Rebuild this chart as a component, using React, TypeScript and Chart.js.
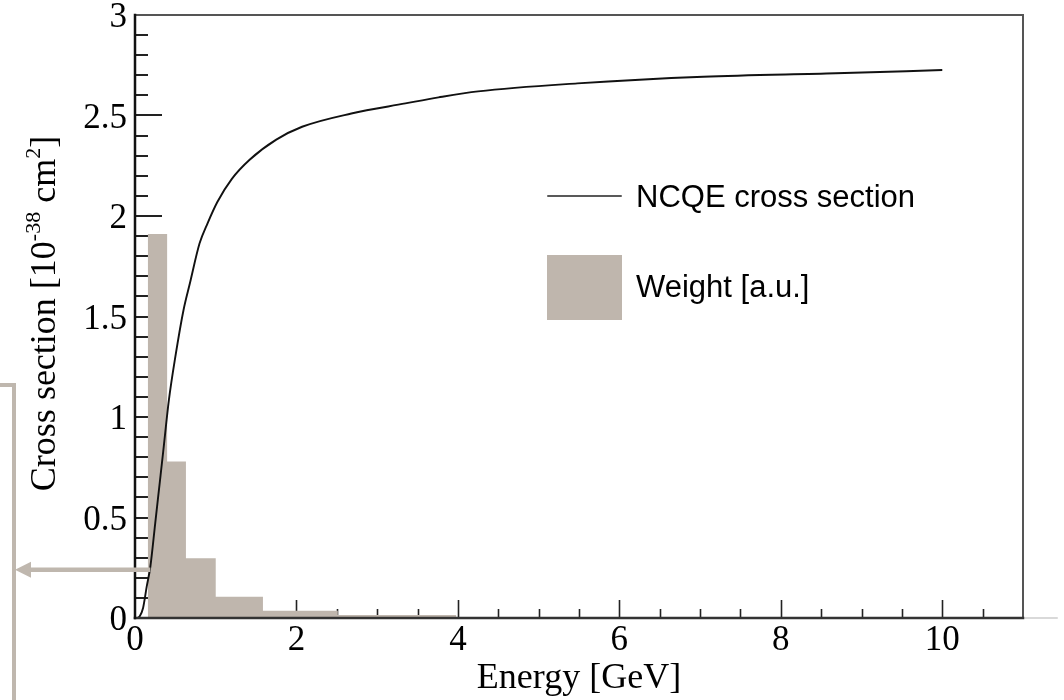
import React, { useEffect, useRef } from "react";
import { Chart, registerables } from "chart.js";

Chart.register(...registerables);

// NCQE cross section curve (energy in GeV, cross section in 1e-38 cm^2)
const energies = [0.03, 0.06, 0.1, 0.145, 0.19, 0.25, 0.3, 0.35, 0.42, 0.5, 0.6, 0.68, 0.8, 0.9, 1.02, 1.2, 1.42, 1.75, 2.07, 2.68, 3.35, 3.76, 4.25, 5.48, 7.04, 8.68, 10.0];
const crossSection = [0, 0.01, 0.05, 0.156, 0.255, 0.47, 0.65, 0.83, 1.085, 1.3, 1.53, 1.665, 1.864, 1.965, 2.07, 2.185, 2.28, 2.38, 2.444, 2.51, 2.56, 2.59, 2.62, 2.66, 2.693, 2.71, 2.726];

// Weight histogram (log-spaced bin edges)
const binEdges = [0.158, 0.398, 0.631, 1.0, 1.585, 2.512, 3.981];
const weights = [1.91, 0.778, 0.297, 0.106, 0.036, 0.015];

const xTickStep = 2;
const yTickStep = 0.5;

const legendLabels = ["NCQE cross section", "Weight [a.u.]"];
const xTitle = "Energy [GeV]";
const yTitleParts = [
  { text: "Cross section [10", sup: false },
  { text: "-38", sup: true },
  { text: " cm", sup: false },
  { text: "2", sup: true },
  { text: "]", sup: false },
];

// annotation arrow target (energy, value)
const arrowTarget = { E: 0.19, v: 0.24 };

const HIST_COLOR = "#bfb6ad";
const SERIF = "'Liberation Serif', 'Times New Roman', serif";
const SANS = "'Liberation Sans', Arial, Helvetica, sans-serif";

const decorPlugin = {
  id: "decor",
  beforeDatasetsDraw(chart: any) {
    const { ctx, chartArea: a, scales } = chart;
    const xs = scales.x;
    const ys = scales.y;
    ctx.save();
    ctx.strokeStyle = "#222";
    ctx.lineWidth = 2;
    for (let i = 1; i <= 30; i++) {
      const py = Math.round(ys.getPixelForValue(i / 10));
      const len = i % 5 === 0 ? 27 : 13;
      ctx.beginPath();
      ctx.moveTo(a.left, py);
      ctx.lineTo(a.left + len, py);
      ctx.stroke();
    }
    ctx.lineWidth = 1.6;
    for (let i = 1; i <= 21; i++) {
      const px = Math.round(xs.getPixelForValue(i * 0.5)) + 0.5;
      const len = i % 4 === 0 ? 18 : 9;
      ctx.beginPath();
      ctx.moveTo(px, a.bottom);
      ctx.lineTo(px, a.bottom - len);
      ctx.stroke();
    }
    ctx.restore();
  },
  afterDraw(chart: any) {
    const { ctx, chartArea: a, scales } = chart;
    const xs = scales.x;
    const ys = scales.y;
    ctx.save();
    // frame
    ctx.lineCap = "square";
    ctx.strokeStyle = "#555";
    ctx.lineWidth = 2;
    ctx.beginPath();
    ctx.moveTo(a.left, a.top);
    ctx.lineTo(a.right, a.top);
    ctx.lineTo(a.right, a.bottom);
    ctx.stroke();
    ctx.strokeStyle = "#ccc";
    ctx.lineWidth = 1.5;
    ctx.beginPath();
    ctx.moveTo(a.right + 2, a.bottom);
    ctx.lineTo(a.right + 34, a.bottom);
    ctx.stroke();
    ctx.strokeStyle = "#333";
    ctx.lineWidth = 2.5;
    ctx.beginPath();
    ctx.moveTo(a.right, a.bottom);
    ctx.lineTo(a.left, a.bottom);
    ctx.stroke();
    ctx.strokeStyle = "#111";
    ctx.beginPath();
    ctx.moveTo(a.left, a.bottom);
    ctx.lineTo(a.left, a.top);
    ctx.stroke();

    // x title
    ctx.fillStyle = "#000";
    ctx.font = `36px ${SERIF}`;
    ctx.textAlign = "center";
    ctx.textBaseline = "alphabetic";
    ctx.fillText(xTitle, (a.left + a.right) / 2, 688);

    // y title (rotated, with superscripts)
    const mainSize = 36;
    const supSize = 22;
    let total = 0;
    const widths = yTitleParts.map((p) => {
      ctx.font = `${p.sup ? supSize : mainSize}px ${SERIF}`;
      const w = ctx.measureText(p.text).width;
      total += w;
      return w;
    });
    ctx.save();
    ctx.translate(55, (a.top + a.bottom) / 2 - 3);
    ctx.rotate(-Math.PI / 2);
    ctx.textAlign = "left";
    let cx = -total / 2;
    yTitleParts.forEach((p, i) => {
      ctx.font = `${p.sup ? supSize : mainSize}px ${SERIF}`;
      ctx.fillText(p.text, cx, p.sup ? -15 : 0);
      cx += widths[i];
    });
    ctx.restore();

    // legend
    ctx.strokeStyle = "#222";
    ctx.lineWidth = 1.5;
    ctx.beginPath();
    ctx.moveTo(548, 196);
    ctx.lineTo(621, 196);
    ctx.stroke();
    ctx.fillStyle = HIST_COLOR;
    ctx.fillRect(547, 255, 75, 65);
    ctx.fillStyle = "#000";
    ctx.font = `31px ${SANS}`;
    ctx.textAlign = "left";
    ctx.fillText(legendLabels[0], 636, 207);
    ctx.fillText(legendLabels[1], 636, 297);

    // annotation arrow
    const ay = ys.getPixelForValue(arrowTarget.v);
    const ax = xs.getPixelForValue(arrowTarget.E);
    ctx.strokeStyle = "#bfb7ae";
    ctx.fillStyle = "#bfb7ae";
    ctx.lineCap = "butt";
    ctx.lineWidth = 4.5;
    ctx.beginPath();
    ctx.moveTo(ax, ay);
    ctx.lineTo(26, ay);
    ctx.stroke();
    ctx.beginPath();
    ctx.moveTo(15, ay);
    ctx.lineTo(31, ay - 8);
    ctx.lineTo(31, ay + 8);
    ctx.closePath();
    ctx.fill();
    ctx.lineWidth = 4;
    ctx.lineJoin = "miter";
    ctx.beginPath();
    ctx.moveTo(0, 385);
    ctx.lineTo(14, 385);
    ctx.lineTo(14, 700);
    ctx.stroke();
    ctx.restore();
  },
};

export default function App() {
  const ref = useRef<HTMLCanvasElement | null>(null);

  useEffect(() => {
    if (!ref.current) return;
    const curve = energies.map((e, i) => ({ x: e, y: crossSection[i] }));
    const hist = binEdges.map((e, i) => ({ x: e, y: i < weights.length ? weights[i] : 0 }));
    const fitAxis = (size: { width?: number; height?: number }) => (scale: any) => {
      if (size.width !== undefined) scale.width = size.width;
      if (size.height !== undefined) scale.height = size.height;
      scale.paddingTop = 0;
      scale.paddingBottom = 0;
      scale.paddingLeft = 0;
      scale.paddingRight = 0;
    };
    const chart = new Chart(ref.current, {
      type: "line",
      data: {
        datasets: [
          {
            label: legendLabels[0],
            data: curve,
            borderColor: "#111",
            borderWidth: 1.9,
            pointRadius: 0,
            cubicInterpolationMode: "monotone",
            fill: false,
          },
          {
            label: legendLabels[1],
            data: hist,
            stepped: "before",
            fill: "origin",
            backgroundColor: HIST_COLOR,
            borderWidth: 0,
            borderColor: "rgba(0,0,0,0)",
            pointRadius: 0,
          },
        ],
      },
      options: {
        animation: false,
        responsive: false,
        devicePixelRatio: 1,
        events: [],
        layout: { padding: { left: 0, top: 15, right: 41, bottom: 0 } },
        plugins: {
          legend: { display: false },
          tooltip: { enabled: false },
        },
        scales: {
          x: {
            type: "linear",
            min: 0,
            max: 11,
            grid: { display: false, drawTicks: false },
            border: { display: false },
            ticks: {
              stepSize: xTickStep,
              includeBounds: false,
              autoSkip: false,
              maxRotation: 0,
              padding: 2,
              color: "#000",
              font: { family: SERIF, size: 35 },
              callback: (v: number) => String(Math.round(v)),
            },
            afterFit: fitAxis({ height: 82 }),
          },
          y: {
            type: "linear",
            min: 0,
            max: 3,
            grid: { display: false, drawTicks: false },
            border: { display: false },
            ticks: {
              stepSize: yTickStep,
              autoSkip: false,
              padding: 8,
              labelOffset: 3,
              color: "#000",
              font: { family: SERIF, size: 35 },
              callback: (v: number) => String(Math.round(v * 10) / 10),
            },
            afterFit: fitAxis({ width: 135 }),
          },
        },
      } as any,
      plugins: [decorPlugin],
    });
    return () => chart.destroy();
  }, []);

  return (
    <div style={{ position: "absolute", left: 0, top: 0, width: 1064, height: 700, background: "#fff" }}>
      <canvas ref={ref} width={1064} height={700} style={{ display: "block" }} />
    </div>
  );
}
